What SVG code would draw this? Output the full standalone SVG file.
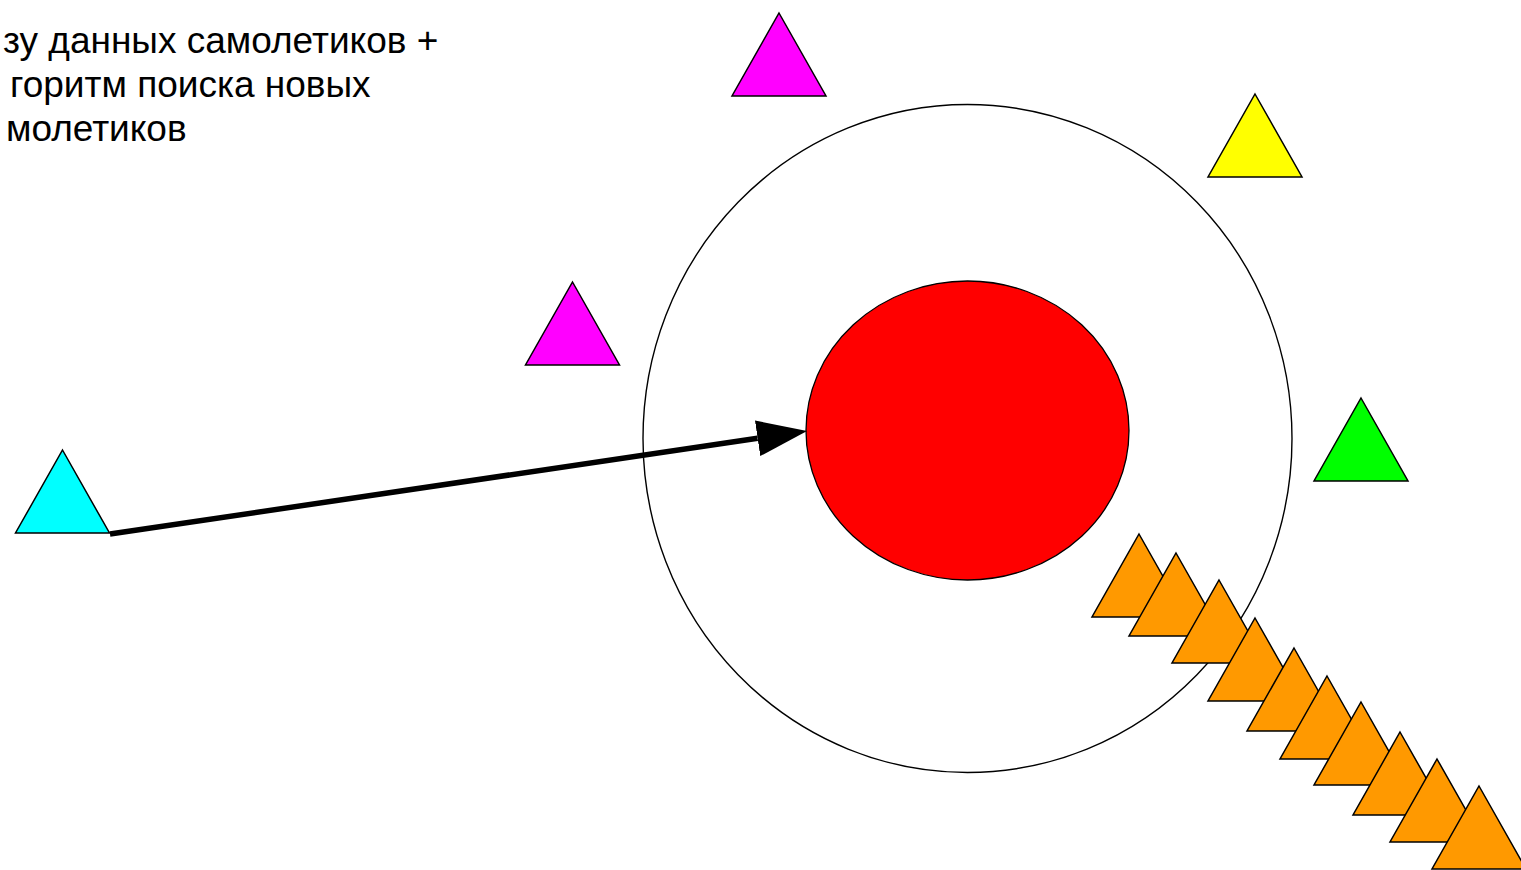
<svg xmlns="http://www.w3.org/2000/svg" width="1521" height="870" viewBox="0 0 1521 870">
<style>
.tri{stroke:#000;stroke-width:1.5;stroke-linejoin:miter}
.lbl{font-family:"Liberation Sans",Arial,sans-serif;font-size:37px;fill:#000}
</style>
<defs>
<marker id="ah" markerUnits="userSpaceOnUse" markerWidth="52" markerHeight="38" refX="0" refY="18" orient="auto" viewBox="0 0 52 38">
<path d="M0,0 L50,18 L0,36 Z" fill="#000"/>
</marker>
</defs>
<rect width="1521" height="870" fill="#fff"/>
<g id="text">
<text class="lbl" x="3" y="53">зу данных самолетиков +</text>
<text class="lbl" x="10" y="97">горитм поиска новых</text>
<text class="lbl" x="6" y="141">молетиков</text>
</g>
<g id="outer-circle">
<ellipse cx="967.5" cy="438.5" rx="324.5" ry="334" fill="none" stroke="#000" stroke-width="1.4"/>
</g>
<g id="red-core">
<ellipse cx="967.5" cy="430.5" rx="161.5" ry="149.5" fill="#ff0000" stroke="#000" stroke-width="1.3"/>
</g>
<g id="magenta-top"><polygon class="tri" fill="#ff00ff" points="779,13 826,96 732,96"/></g>
<g id="magenta-left"><polygon class="tri" fill="#ff00ff" points="572.5,282 619.5,365 525.5,365"/></g>
<g id="yellow"><polygon class="tri" fill="#ffff00" points="1255,94 1302,177 1208,177"/></g>
<g id="green"><polygon class="tri" fill="#00ff00" points="1361,398 1408,481 1314,481"/></g>
<g id="cyan"><polygon class="tri" fill="#00ffff" points="62.5,450 109.5,533 15.5,533"/></g>
<g id="orange-chain">
<polygon class="tri" fill="#ff9900" points="1139,534 1186,617 1092,617"/>
<polygon class="tri" fill="#ff9900" points="1176,553 1223,636 1129,636"/>
<polygon class="tri" fill="#ff9900" points="1219,580 1266,663 1172,663"/>
<polygon class="tri" fill="#ff9900" points="1255,618 1302,701 1208,701"/>
<polygon class="tri" fill="#ff9900" points="1294,648 1341,731 1247,731"/>
<polygon class="tri" fill="#ff9900" points="1327,676 1374,759 1280,759"/>
<polygon class="tri" fill="#ff9900" points="1361,702 1408,785 1314,785"/>
<polygon class="tri" fill="#ff9900" points="1400,732 1447,815 1353,815"/>
<polygon class="tri" fill="#ff9900" points="1437,759 1484,842 1390,842"/>
<polygon class="tri" fill="#ff9900" points="1479,786 1526,869 1432,869"/>
</g>
<g id="connectors">
<line x1="110" y1="534" x2="757.6" y2="438.3" stroke="#000" stroke-width="5.5" marker-end="url(#ah)"/>
</g>
</svg>
